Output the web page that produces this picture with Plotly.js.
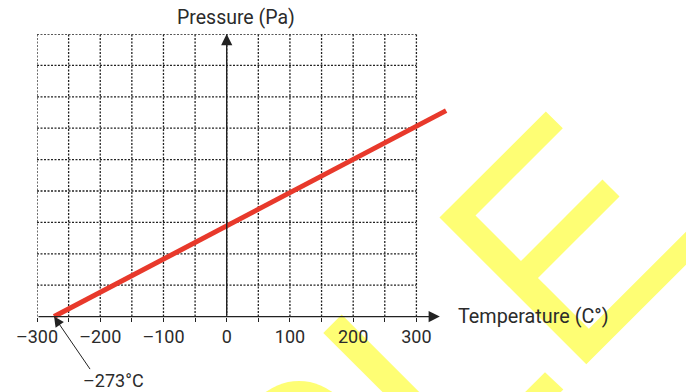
<!DOCTYPE html>
<html>
<head>
<meta charset="utf-8">
<script src="https://cdn.plot.ly/plotly-3.0.1.min.js"></script>
<style>html,body{margin:0;padding:0;background:#fff;}#chart{width:686px;height:392px;}</style>
</head>
<body>
<div id="chart"></div>
<script>
// ---- data ----
const tempC = [-273, 347];            // temperature (°C)
const pressure = [0, 6.56];           // pressure (grid units)
const tickValues = [-300, -250, -200, -150, -100, -50, 0, 50, 100, 150, 200, 250, 300];
const tickLabels = ['–300', '', '–200', '', '–100', '', '0', '', '100', '', '200', '', '300'];
const gridX = [-300, -250, -200, -150, -100, -50, 0, 50, 100, 150, 200, 250, 300];
const gridY = [1, 2, 3, 4, 5, 6, 7, 8, 9];
const absZeroLabel = '–273°C';
const xTitle = 'Temperature (C°)';
const yTitle = 'Pressure (Pa)';

// watermark outlines in page pixels (decoration of the source image)
const wmPolys = [
  [[545.8,111.5],[562.8,128.5],[475.5,215.8],[521,261.3],[602.5,179.8],[619.5,196.8],[538,278.3],[588.8,329.2],[700,218],[700,251],[586.3,364.7],[439.5,217.8]],
  [[323.3,333.3],[341.7,315],[426.7,400],[390,400]],
  [[545,372.7],[563.3,390],[553.3,400],[517.7,400]]
];
const wmCircle = [299, 438, 56.4];

const W = 686, H = 392;
const M = {l: 37, r: 219, t: 34, b: 65.6};
const xRange = [-300, 380];
const yRange = [-0.3, 9];
const pw = W - M.l - M.r, ph = H - M.t - M.b;
const px2paperX = p => (p - M.l) / pw;
const px2paperY = p => (H - M.b - p) / ph;

const ink = '#222';
const textCol = '#2b2b2b';
const FONT = 'Roboto, "DejaVu Sans", sans-serif';
const wmColor = '#fefe74';

const shapes = [];
wmPolys.forEach(poly => {
  let d = poly.map((p, i) => (i ? 'L' : 'M') + px2paperX(p[0]).toFixed(4) + ',' + px2paperY(p[1]).toFixed(4)).join(' ') + ' Z';
  shapes.push({type: 'path', xref: 'paper', yref: 'paper', path: d, fillcolor: wmColor, line: {width: 0}, layer: 'below'});
});
shapes.push({type: 'circle', xref: 'paper', yref: 'paper',
  x0: px2paperX(wmCircle[0] - wmCircle[2]), x1: px2paperX(wmCircle[0] + wmCircle[2]),
  y0: px2paperY(wmCircle[1] + wmCircle[2]), y1: px2paperY(wmCircle[1] - wmCircle[2]),
  fillcolor: wmColor, line: {width: 0}, layer: 'below'});

const gridLine = {color: ink, width: 1.3, dash: '2px,1.5px'};
gridX.forEach(v => shapes.push({type: 'line', xref: 'x', yref: 'y', x0: v, x1: v, y0: 0, y1: gridY[gridY.length - 1], line: gridLine, layer: 'below'}));
gridY.forEach(v => shapes.push({type: 'line', xref: 'x', yref: 'y', x0: gridX[0], x1: gridX[gridX.length - 1], y0: v, y1: v, line: gridLine, layer: 'below'}));

const annotations = [
  // x axis with arrow
  {xref: 'x', yref: 'y', axref: 'x', ayref: 'y', x: 337, y: 0, ax: -300, ay: 0, text: '', showarrow: true,
   arrowhead: 2, arrowsize: 1.6, arrowwidth: 1.4, arrowcolor: ink, standoff: 0},
  // y axis with arrow
  {xref: 'x', yref: 'y', axref: 'x', ayref: 'y', x: 0, y: 9, ax: 0, ay: 0, text: '', showarrow: true,
   arrowhead: 2, arrowsize: 1.6, arrowwidth: 1.4, arrowcolor: ink, standoff: 0},
  // absolute zero pointer
  {xref: 'x', yref: 'y', x: tempC[0], y: pressure[0], ax: 37, ay: 54, text: '', showarrow: true,
   arrowhead: 2, arrowsize: 2, arrowwidth: 1, arrowcolor: ink, standoff: 0},
  {xref: 'x', yref: 'y', x: -179, y: 0, yshift: -64, text: absZeroLabel, showarrow: false,
   xanchor: 'center', yanchor: 'middle', borderpad: 0, font: {family: FONT, size: 18, color: textCol}},
  {xref: 'x', yref: 'y', x: 0, y: 9, xshift: 9, yshift: 17, text: yTitle, showarrow: false,
   xanchor: 'center', yanchor: 'middle', font: {family: FONT, size: 19.5, color: textCol}},
  {xref: 'x', yref: 'y', x: 367, y: 0, xshift: -3, text: xTitle, showarrow: false,
   xanchor: 'left', yanchor: 'middle', font: {family: FONT, size: 19.8, color: textCol}}
];

const trace = {
  type: 'scatter', mode: 'lines', x: tempC, y: pressure,
  line: {color: '#e8392b', width: 5}, cliponaxis: false, hoverinfo: 'skip'
};

const layout = {
  width: W, height: H,
  margin: M,
  paper_bgcolor: '#fff', plot_bgcolor: 'rgba(0,0,0,0)',
  showlegend: false,
  xaxis: {
    range: xRange, anchor: 'free', position: (0 - yRange[0]) / (yRange[1] - yRange[0]),
    showgrid: false, zeroline: false, showline: false,
    tickmode: 'array', tickvals: tickValues, ticktext: tickLabels,
    ticks: 'outside', ticklen: 4, tickwidth: 1, tickcolor: ink,
    tickfont: {family: FONT, size: 18, color: textCol}
  },
  yaxis: {
    range: yRange, showgrid: false, zeroline: false, showline: false,
    showticklabels: false, ticks: ''
  },
  shapes: shapes,
  annotations: annotations
};

Plotly.newPlot('chart', [trace], layout, {staticPlot: true, displayModeBar: false});
</script>
</body>
</html>
